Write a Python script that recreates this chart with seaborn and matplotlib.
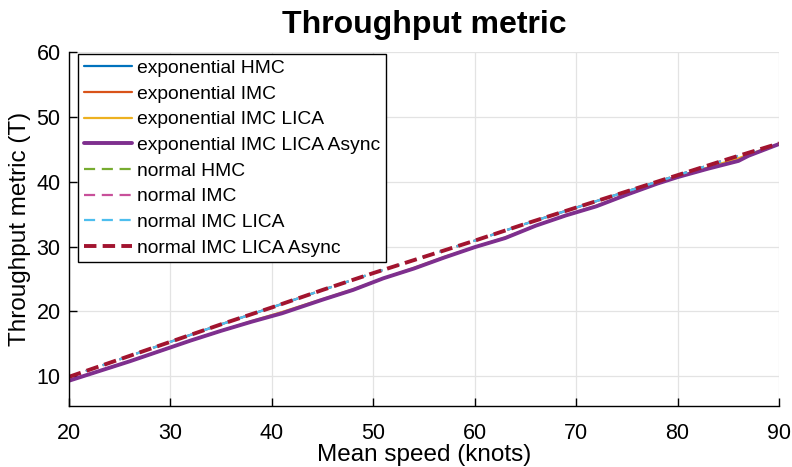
import numpy as np
import pandas as pd
import matplotlib
matplotlib.use("Agg")
import matplotlib.pyplot as plt
import seaborn as sns

# Mean speed grid (knots)
speed_exp = [20, 23, 26, 29, 32, 35, 38, 41, 45, 48, 51, 54, 57, 60, 63, 66, 69, 72, 75, 78, 80, 83, 86, 87, 90]
speed_norm = [20, 25, 30, 35, 40, 45, 50, 55, 60, 65, 70, 75, 80, 85, 90]

# Throughput metric, exponential arrivals
exp_hmc = [9.3, 10.8, 12.3, 13.9, 15.5, 17.0, 18.4, 19.8, 21.8, 23.3, 25.1, 26.6, 28.3, 29.9, 31.3, 33.2, 34.8, 36.2, 38.0, 39.7, 40.7, 42.0, 43.3, 44.0, 45.8]
exp_imc = [9.3, 10.8, 12.3, 13.9, 15.5, 17.0, 18.4, 19.8, 21.8, 23.3, 25.1, 26.6, 28.3, 29.9, 31.3, 33.2, 34.8, 36.2, 38.0, 39.7, 40.7, 42.0, 43.3, 44.0, 45.8]
exp_imc_lica = [9.3, 10.8, 12.3, 13.9, 15.5, 17.0, 18.5, 19.9, 21.9, 23.4, 25.1, 26.7, 28.4, 29.9, 31.4, 33.2, 34.8, 36.3, 38.0, 39.7, 40.7, 42.2, 43.6, 44.2, 45.8]
exp_imc_lica_async = [9.3, 10.8, 12.3, 13.9, 15.5, 17.0, 18.4, 19.7, 21.8, 23.3, 25.1, 26.6, 28.3, 29.9, 31.3, 33.2, 34.8, 36.2, 38.0, 39.7, 40.7, 42.0, 43.2, 44.0, 45.8]

# Throughput metric, normal arrivals
norm_hmc = [9.9, 12.6, 15.3, 18.0, 20.6, 23.3, 25.9, 28.4, 30.9, 33.5, 36.0, 38.5, 41.0, 43.5, 45.9]
norm_imc = [9.9, 12.6, 15.3, 18.0, 20.6, 23.3, 25.9, 28.4, 30.9, 33.5, 36.0, 38.5, 41.0, 43.5, 45.9]
norm_imc_lica = [9.9, 12.6, 15.3, 18.0, 20.6, 23.3, 25.9, 28.4, 30.9, 33.5, 36.0, 38.5, 41.0, 43.5, 45.9]
norm_imc_lica_async = [9.9, 12.6, 15.3, 18.0, 20.6, 23.3, 25.9, 28.4, 30.9, 33.5, 36.0, 38.5, 41.0, 43.5, 45.9]

labels = ["exponential HMC", "exponential IMC", "exponential IMC LICA", "exponential IMC LICA Async",
          "normal HMC", "normal IMC", "normal IMC LICA", "normal IMC LICA Async"]
x_ticks = [20, 30, 40, 50, 60, 70, 80, 90]
y_ticks = [10, 20, 30, 40, 50, 60]

series = [
    (speed_exp, exp_hmc, "#0072BD", "-", 1.6),
    (speed_exp, exp_imc, "#D95319", "-", 1.6),
    (speed_exp, exp_imc_lica, "#EDB120", "-", 1.6),
    (speed_exp, exp_imc_lica_async, "#7E2F8E", "-", 2.8),
    (speed_norm, norm_hmc, "#77AC30", (0, (5, 3)), 1.6),
    (speed_norm, norm_imc, "#C8509A", (0, (5, 3)), 1.6),
    (speed_norm, norm_imc_lica, "#4DBEEE", (0, (5, 3)), 1.6),
    (speed_norm, norm_imc_lica_async, "#A2142F", (0, (3.2, 1.6)), 2.8),
]

sns.set_style("whitegrid")
plt.rcParams["font.family"] = ["Liberation Sans", "DejaVu Sans"]
plt.rcParams["text.color"] = "black"
plt.rcParams["axes.labelcolor"] = "black"

fig = plt.figure(figsize=(7.92, 4.67), dpi=100)
ax = fig.add_axes([0.0871, 0.1306, 0.8965, 0.7581])

for (xs, ys, color, ls, lw), lab in zip(series, labels):
    df = pd.DataFrame({"speed": xs, "value": ys})
    sns.lineplot(data=df, x="speed", y="value", ax=ax, color=color,
                 linestyle=ls, linewidth=lw, label=lab)

ax.set_xlim(20, 90)
ax.set_ylim(5.4, 60)
ax.set_xticks(x_ticks)
ax.set_yticks(y_ticks)
ax.tick_params(axis="both", direction="in", length=6, width=1.0, colors="black",
               labelsize=15.5, left=True, bottom=True)
ax.tick_params(axis="x", pad=12)
ax.tick_params(axis="y", pad=6)
ax.grid(True, color="#E3E3E3", linewidth=0.9)
for side in ["top", "right"]:
    ax.spines[side].set_visible(False)
for side in ["left", "bottom"]:
    ax.spines[side].set_visible(True)
    ax.spines[side].set_color("black")
    ax.spines[side].set_linewidth(1.0)

ax.set_xlabel("Mean speed (knots)", fontsize=17.5, labelpad=0)
ax.set_ylabel("Throughput metric (T)", fontsize=17.5, labelpad=4)
ax.set_title("Throughput metric", fontsize=23, fontweight="bold", pad=13.5)

leg = ax.legend(loc="upper left", fontsize=13.9, frameon=True, fancybox=False,
                edgecolor="black", framealpha=1.0, handlelength=2.5,
                labelspacing=0.42, borderaxespad=0.1, borderpad=0.3, handletextpad=0.25,
                bbox_to_anchor=(0.01, 1.0))
leg.get_frame().set_linewidth(1.0)

fig.savefig("out.png", dpi=100)
